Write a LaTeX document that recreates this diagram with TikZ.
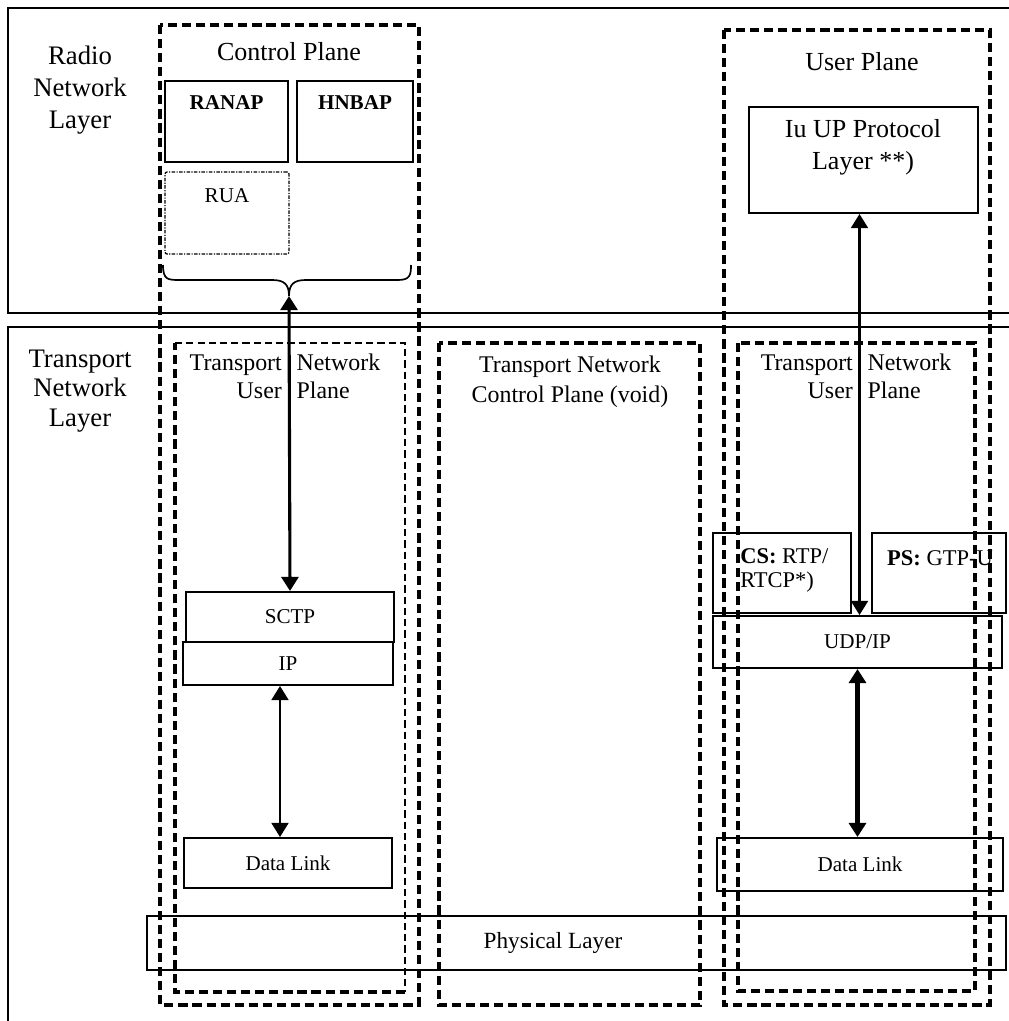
\documentclass[tikz,border=0pt]{standalone}
\usepackage{fontspec}
\setmainfont{Liberation Serif}
\usetikzlibrary{arrows.meta,positioning}

\tikzset{
  blk/.style={draw, line width=1.4pt, inner sep=0pt},
  plane/.style={line width=2.2pt, dash pattern=on 6.5pt off 3.5pt},
  thinplane/.style={line width=0.8pt, dash pattern=on 5pt off 3pt},
  lbl/.style={font=\fontsize{17}{21}\selectfont, align=center, inner sep=0pt},
  sml/.style={font=\fontsize{15}{19}\selectfont, align=center, inner sep=0pt},
  link/.style={line width=2pt, {Triangle[length=10pt,width=12pt]}-{Triangle[length=10pt,width=12pt]}},
}
\newcommand{\tnupl}{\begin{tabular}{@{}r@{\hspace{10.5pt}}l@{}}Transport & Network\\ User & Plane\end{tabular}}

\begin{document}
\begin{tikzpicture}[x=0.025cm,y=-0.025cm]
\useasboundingbox (0,0) rectangle (1008,1021);

% layers
\draw[line width=1.4pt] (1012,8) -- (8,8) -- (8,313) -- (1012,313);
\draw[line width=1.4pt] (1012,327) -- (8,327) -- (8,1030);
\node (rnl) [lbl, font=\fontsize{19}{22.7}\selectfont] at (80,90) {Radio\\Network\\Layer};
\node (tnl) [lbl, font=\fontsize{19}{20.8}\selectfont] at (80,391) {Transport\\Network\\Layer};

% planes
\draw[plane] (160,25) rectangle (419,1005);
\draw[plane] (724,30) rectangle (990,1005);
\draw[plane] (439,343) rectangle (700,1005);
\draw[plane] (738,343) rectangle (975,991);
\draw[plane] (405,992) -- (175,992) -- (175,343);
\draw[thinplane] (175,343) -- (405,343) -- (405,992);

\node (cptxt) [lbl, font=\fontsize{18.5}{21}\selectfont] at (289,52) {Control Plane};
\node (uptxt) [lbl, font=\fontsize{18.5}{21}\selectfont] at (862,62) {User Plane};
\node (tnupltxt) [lbl, font=\fontsize{17}{20}\selectfont] at (285,379) {\tnupl};
\node (tncptxt) [lbl] at (570,382) {Transport Network\\Control Plane (void)};
\node (tnuprtxt) [lbl, font=\fontsize{17}{20}\selectfont] at (856,379) {\tnupl};

% radio network layer, control plane
\node (ranap) [blk, minimum width=3.075cm, minimum height=2.025cm] at (226.5,121.5) {};
\node (ranaptxt) [sml] at (226.5,103) {\textbf{RANAP}};
\node (hnbap) [blk, minimum width=2.9cm, minimum height=2.025cm] at (355,121.5) {};
\node (hnbaptxt) [sml] at (355,103) {\textbf{HNBAP}};
\node (rua) [draw, line width=0.9pt, dash pattern=on 2.5pt off 1pt on 0.8pt off 1pt, rounded corners=1.5pt,
  minimum width=3.1cm, minimum height=2.05cm] at (227,213) {};
\node (ruatxt) [sml] at (227,196) {RUA};

% brace
\draw[line width=1.2pt] (163,265) .. controls (163,280) and (168,280) .. (180,280) -- (272,280)
  .. controls (284,280) and (289,284) .. (289,296) .. controls (289,284) and (294,280) .. (306,280)
  -- (398,280) .. controls (410,280) and (411,275) .. (411,265);
\coordinate (brtip) at (289,296);

% transport stack, control plane
\node (sctp) [blk, sml, minimum width=5.2cm, minimum height=1.25cm] at (290,617) {SCTP};
\node (ip) [blk, sml, minimum width=5.25cm, minimum height=1.075cm] at (288,663.5) {IP};
\node (dll) [blk, sml, minimum width=5.2cm, minimum height=1.25cm] at (288,863) {Data Link};
\node (phys) [blk, minimum width=21.475cm, minimum height=1.35cm] at (576.5,943) {};
\node (phystxt) [sml, font=\fontsize{16.5}{19}\selectfont] at (553,943) {Physical Layer};

% user plane
\node (iuup) [blk, minimum width=5.725cm, minimum height=2.65cm] at (863.5,160) {};
\node (iuuptxt) [lbl, font=\fontsize{18.5}{23}\selectfont] at (863,147) {Iu UP Protocol\\Layer **)};
\node (cs) [blk, minimum width=3.45cm, minimum height=2cm] at (782,573) {};
\node (cstxt) [sml, font=\fontsize{16}{17}\selectfont, align=left, anchor=west] at (740,570) {\textbf{CS:} RTP/\\RTCP*)};
\node (ps) [blk, minimum width=3.35cm, minimum height=2cm] at (939,573) {};
\node (pstxt) [sml, font=\fontsize{16}{17}\selectfont] at (940,558) {\textbf{PS:} GTP-U};
\node (udp) [blk, sml, minimum width=7.225cm, minimum height=1.3cm] at (857.5,642) {UDP/IP};
\node (dlr) [blk, sml, minimum width=7.15cm, minimum height=1.325cm] at (860,864.5) {Data Link};

% arrows
\draw[link, line width=2.2pt] (brtip) -- (sctp.north);
\draw[link, line width=1.5pt] ([xshift=-0.2cm]ip.south) -- ([xshift=-0.2cm]ip.south |- dll.north);
\draw[link, line width=1.6pt] ([xshift=-0.1cm]iuup.south) -- ([xshift=-0.1cm]iuup.south |- udp.north);
\draw[link, line width=3.2pt] (udp.south) -- (udp.south |- dlr.north);
\end{tikzpicture}
\end{document}
